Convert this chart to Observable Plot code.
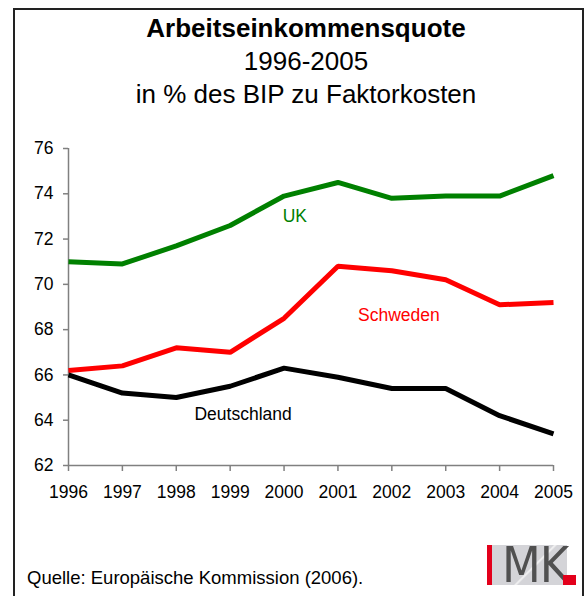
<!DOCTYPE html>
<html>
<head>
<meta charset="utf-8">
<script src="https://cdn.jsdelivr.net/npm/d3@7"></script>
<script src="https://cdn.jsdelivr.net/npm/@observablehq/plot@0.6"></script>
<style>
  html, body { margin: 0; padding: 0; background: #fff; }
  #wrap { position: relative; width: 584px; height: 596px; overflow: hidden; font-family: "Liberation Sans", Arial, sans-serif; color: #000; }
  #frame { position: absolute; left: 13px; top: 8px; width: 567px; height: 700px; border: 2px solid #222; }
  #titles { position: absolute; left: 106px; top: 12px; width: 400px; text-align: center; font-size: 26px; line-height: 33px; }
  #titles .t { font-weight: bold; }
  #chart { position: absolute; left: 0; top: 130px; }
  #caption { position: absolute; left: 27px; top: 568px; font-size: 18.5px; line-height: 20px; }
  #logo { position: absolute; left: 487px; top: 545px; width: 80px; height: 40px; background: linear-gradient(135deg, #d4d4d8 0%, #d4d4d8 55%, #f4f4f4 57%, #d4d4d8 59%, #d4d4d8 100%); }
  #logo .bar { position: absolute; left: 0; top: 0; width: 5px; height: 40px; background: #e3001b; }
  #logo .mk { position: absolute; left: 15px; top: -5px; font-family: "Liberation Sans Narrow", "DejaVu Sans Condensed", sans-serif; font-size: 50px; line-height: 50px; color: #505050; letter-spacing: -1px; }
  #logo .dot { position: absolute; left: 76px; top: 30px; width: 13px; height: 10px; background: #e3001b; }
</style>
</head>
<body>
<div id="wrap">
  <div id="frame"></div>
  <div id="titles">
    <div class="t">Arbeitseinkommensquote</div>
    <div>1996-2005</div>
    <div>in % des BIP zu Faktorkosten</div>
  </div>
  <div id="chart"></div>
  <div id="caption">Quelle: Europäische Kommission (2006).</div>
  <div id="logo"><div class="bar"></div><div class="mk">MK</div><div class="dot"></div></div>
</div>
<script>
const years = [1996, 1997, 1998, 1999, 2000, 2001, 2002, 2003, 2004, 2005];
const uk = [71.0, 70.9, 71.7, 72.6, 73.9, 74.5, 73.8, 73.9, 73.9, 74.8];
const schweden = [66.2, 66.4, 67.2, 67.0, 68.5, 70.8, 70.6, 70.2, 69.1, 69.2];
const deutschland = [66.0, 65.2, 65.0, 65.5, 66.3, 65.9, 65.4, 65.4, 64.2, 63.4];
const seriesNames = ["UK", "Schweden", "Deutschland"];
const seriesColors = ["#008000", "#ff0000", "#000000"];
const yTicks = [62, 64, 66, 68, 70, 72, 74, 76];
// label anchor points in data space (year, value)
const labelYears = [2000.2, 2002.13, 1999.24];
const labelValues = [73.0, 68.62, 64.27];

const seriesValues = [uk, schweden, deutschland];
const rows = [];
seriesNames.forEach((name, i) => {
  years.forEach((yr, j) => rows.push({series: name, year: yr, value: seriesValues[i][j]}));
});
const labels = seriesNames.map((name, i) => ({series: name, year: labelYears[i], value: labelValues[i]}));

const chart = Plot.plot({
  width: 584,
  height: 375,
  marginLeft: 68,
  marginRight: 31,
  marginTop: 18,
  marginBottom: 40,
  style: {fontFamily: "Liberation Sans, Arial, sans-serif", background: "transparent", color: "#000"},
  x: {domain: [1996, 2005], label: null},
  y: {domain: [62, 76], label: null},
  color: {domain: seriesNames, range: seriesColors},
  marks: [
    Plot.axisX({ticks: years, tickFormat: "d", tickSize: 6, tickPadding: 14, stroke: "#808080", strokeWidth: 1.5, fill: "#000", fontSize: 17.5, label: null}),
    Plot.axisY({ticks: yTicks, tickSize: 5, tickPadding: 10, stroke: "#808080", strokeWidth: 1.5, fill: "#000", fontSize: 17.5, label: null}),
    Plot.ruleX([1996], {stroke: "#808080", strokeWidth: 1.5}),
    Plot.ruleY([62], {stroke: "#808080", strokeWidth: 1.5}),
    Plot.line(rows, {x: "year", y: "value", z: "series", stroke: "series", strokeWidth: 5, strokeLinecap: "butt", strokeLinejoin: "miter"}),
    Plot.text(labels, {x: "year", y: "value", text: "series", fill: "series", fontSize: 17.5})
  ]
});
document.getElementById("chart").appendChild(chart);
</script>
</body>
</html>
